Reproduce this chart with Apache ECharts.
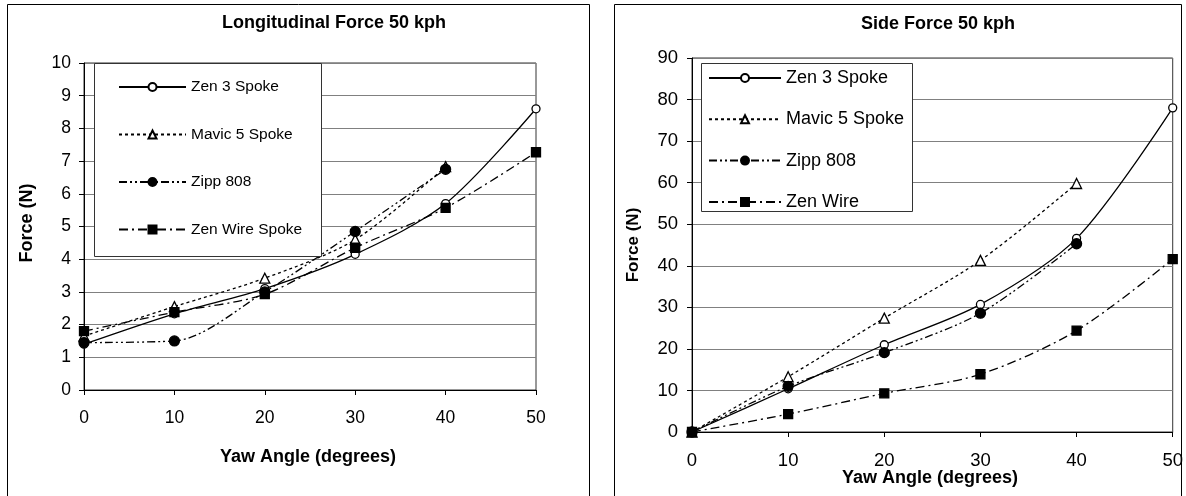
<!DOCTYPE html>
<html>
<head>
<meta charset="utf-8">
<script src="https://cdn.jsdelivr.net/npm/echarts@6/dist/echarts.min.js"></script>
<style>
  html, body { margin: 0; padding: 0; background: #fff; }
  #chart { width: 1186px; height: 496px; }
</style>
</head>
<body>
<div id="chart"></div>
<script>
// Yaw angles (degrees) shared by both panels
const yawAngles = [0, 10, 20, 30, 40, 50];

// Longitudinal force at 50 kph (N)
const zen3Long  = [1.4, 2.33, 3.1, 4.15, 5.7, 8.6];
const mavicLong = [1.65, 2.55, 3.42, 4.6, 6.83];
const zippLong  = [1.45, 1.5, 3.0, 4.85, 6.75];
const wireLong  = [1.8, 2.38, 2.93, 4.35, 5.57, 7.27];

// Side force at 50 kph (N)
const zen3Side  = [0, 10.4, 21.0, 30.7, 46.6, 78.0];
const mavicSide = [0, 13.3, 27.4, 41.3, 59.8];
const zippSide  = [0, 11.0, 19.1, 28.6, 45.3];
const wireSide  = [0, 4.3, 9.3, 13.9, 24.4, 41.6];

// Legend labels per panel
const longNames = ['Zen 3 Spoke', 'Mavic 5 Spoke', 'Zipp 808', 'Zen Wire Spoke'];
const sideNames = ['Zen 3 Spoke', 'Mavic 5 Spoke', 'Zipp 808', 'Zen Wire'];

// Panel and axis titles
const titles = ['Longitudinal Force 50 kph', 'Side Force 50 kph'];
const xTitle = 'Yaw Angle (degrees)';
const yTitle = 'Force (N)';

const FONT = '"Liberation Sans", Arial, sans-serif';

const pairs = vals => vals.map((v, i) => [yawAngles[i], v]);

// Marker / line style for each rim
const styles = [
  { symbol: 'circle',   size: 8,  fill: '#fff', dash: 'solid' },
  { symbol: 'triangle', size: 10, fill: '#fff', dash: [3, 3] },
  { symbol: 'circle',   size: 10, fill: '#000', dash: [8, 3, 2, 3, 2, 3] },
  { symbol: 'rect',     size: 9,  fill: '#000', dash: [9, 4, 2, 4] }
];

function makeSeries(name, vals, st, gi) {
  return {
    type: 'line',
    name: name,
    xAxisIndex: gi,
    yAxisIndex: gi,
    data: pairs(vals),
    smooth: 0.3,
    symbol: st.symbol,
    symbolSize: st.size,
    showAllSymbol: true,
    z: 3,
    lineStyle: { color: '#000', width: 1.3, type: st.dash },
    itemStyle: { color: st.fill, borderColor: '#000', borderWidth: 1.3 },
    emphasis: { disabled: true },
    animation: false
  };
}

const series = [];
[zen3Long, mavicLong, zippLong, wireLong].forEach((v, i) => series.push(makeSeries(longNames[i], v, styles[i], 0)));
[zen3Side, mavicSide, zippSide, wireSide].forEach((v, i) => series.push(makeSeries(sideNames[i], v, styles[i], 1)));

function xAxisCfg(gi, fs, margin) {
  return {
    gridIndex: gi, type: 'value', min: 0, max: 50, interval: 10,
    axisLine: { lineStyle: { color: '#000', width: 1 } },
    axisTick: { inside: false, length: 5, lineStyle: { color: '#000' } },
    axisLabel: { color: '#000', fontSize: fs, fontFamily: FONT, margin: margin },
    splitLine: { show: false }
  };
}
function yAxisCfg(gi, max, interval, fs, margin) {
  return {
    gridIndex: gi, type: 'value', min: 0, max: max, interval: interval,
    axisLine: { show: true, lineStyle: { color: '#000', width: 1 } },
    axisTick: { show: true, inside: false, length: 5, lineStyle: { color: '#000' } },
    axisLabel: { color: '#000', fontSize: fs, fontFamily: FONT, margin: margin },
    splitLine: { show: true, lineStyle: { color: '#808080', width: 1 } }
  };
}

function label(text, x, y, fs, rotate) {
  return {
    type: 'text', x: x, y: y, rotation: rotate ? Math.PI / 2 : 0, z: 5,
    style: { text: text, fontSize: fs, fontWeight: 'bold', fontFamily: FONT, fill: '#000',
             align: 'center', verticalAlign: 'middle' }
  };
}

const chart = echarts.init(document.getElementById('chart'), null, { renderer: 'canvas' });
chart.setOption({
  animation: false,
  backgroundColor: '#fff',
  grid: [
    { left: 84, top: 63, width: 452, height: 327, show: true, borderColor: '#333', borderWidth: 1, backgroundColor: 'transparent' },
    { left: 692, top: 58, width: 481, height: 374, show: true, borderColor: '#333', borderWidth: 1, backgroundColor: 'transparent' }
  ],
  xAxis: [xAxisCfg(0, 17.5, 19), xAxisCfg(1, 18.5, 19)],
  yAxis: [yAxisCfg(0, 10, 1, 17.5, 13), yAxisCfg(1, 90, 10, 18.5, 14)],
  legend: [
    { data: longNames, orient: 'vertical', left: 118, top: 79, padding: 0, itemWidth: 67, itemHeight: 10,
      itemGap: 31.5, selectedMode: false, z: 10,
      textStyle: { fontSize: 15.5, color: '#000', fontFamily: FONT } },
    { data: sideNames, orient: 'vertical', left: 708, top: 69, padding: 0, itemWidth: 72, itemHeight: 10,
      itemGap: 23.3, selectedMode: false, z: 10,
      textStyle: { fontSize: 18, color: '#000', fontFamily: FONT } }
  ],
  graphic: [
    // panel frames
    { type: 'rect', shape: { x: 7.5, y: 4.5, width: 582, height: 600 }, style: { fill: 'none', stroke: '#000', lineWidth: 1 }, z: 1 },
    { type: 'rect', shape: { x: 614.5, y: 4.5, width: 567, height: 600 }, style: { fill: 'none', stroke: '#000', lineWidth: 1 }, z: 1 },
    // legend boxes
    { type: 'rect', shape: { x: 94.5, y: 63.5, width: 227, height: 193 }, style: { fill: '#fff', stroke: '#333', lineWidth: 1 }, z: 8 },
    { type: 'rect', shape: { x: 701.5, y: 63.5, width: 211, height: 148 }, style: { fill: '#fff', stroke: '#333', lineWidth: 1 }, z: 8 },
    // panel titles
    label(titles[0], 334, 23, 18, false),
    label(titles[1], 938, 24, 18, false),
    // axis titles
    label(yTitle, 27, 223, 18, true),
    label(xTitle, 308, 457, 18, false),
    label(yTitle, 633, 245, 17, true),
    label(xTitle, 930, 478, 18, false)
  ],
  series: series
});
</script>
</body>
</html>
